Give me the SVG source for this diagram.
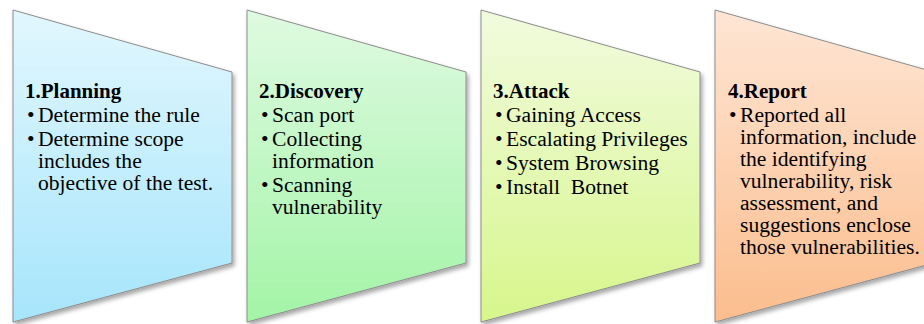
<svg xmlns="http://www.w3.org/2000/svg" width="924" height="324" viewBox="0 0 924 324">
  <style>
    .stage { stroke: #8c8c8c; stroke-width: 1; filter: url(#shadow); }
    text { font-family: 'Liberation Serif', 'DejaVu Serif', serif; fill: #000; }
    .title { font-size: 21px; font-weight: bold; }
    .body { font-size: 21.6px; }
  </style>
  <defs>
    <filter id="shadow" x="-10%" y="-10%" width="130%" height="130%">
      <feDropShadow dx="2" dy="3" stdDeviation="2" flood-color="#000" flood-opacity="0.35"/>
    </filter>
    <linearGradient id="gBlue" x1="0" y1="0" x2="0" y2="1">
      <stop offset="0" stop-color="#e2f7fe"/>
      <stop offset="1" stop-color="#a6e5fb"/>
    </linearGradient>
    <linearGradient id="gGreen" x1="0" y1="0" x2="0" y2="1">
      <stop offset="0" stop-color="#dffae1"/>
      <stop offset="1" stop-color="#a3f4a7"/>
    </linearGradient>
    <linearGradient id="gLime" x1="0" y1="0" x2="0" y2="1">
      <stop offset="0" stop-color="#f1fbde"/>
      <stop offset="1" stop-color="#d7f68c"/>
    </linearGradient>
    <linearGradient id="gOrange" x1="0" y1="0" x2="0" y2="1">
      <stop offset="0" stop-color="#fee6d5"/>
      <stop offset="1" stop-color="#fbbd8d"/>
    </linearGradient>
  </defs>
  <rect width="924" height="324" fill="#fff"/>

  <!-- Stage 1 -->
  <g id="planning">
    <path class="stage" fill="url(#gBlue)" d="M13,10 L232,72 L232,263 L13,322 Z"/>
    <text class="title" x="25" y="98">1.Planning</text>
    <text class="body">
      <tspan x="27" y="122">•</tspan><tspan x="38" y="122">Determine the rule</tspan>
      <tspan x="27" y="146">•</tspan><tspan x="38" y="146">Determine scope</tspan>
      <tspan x="38" y="168">includes the</tspan>
      <tspan x="38" y="190">objective of the test.</tspan>
    </text>
  </g>

  <!-- Stage 2 -->
  <g id="discovery">
    <path class="stage" fill="url(#gGreen)" d="M247,10 L466,72 L466,263 L247,322 Z"/>
    <text class="title" x="259" y="98">2.Discovery</text>
    <text class="body">
      <tspan x="261" y="122">•</tspan><tspan x="272" y="122">Scan port</tspan>
      <tspan x="261" y="146">•</tspan><tspan x="272" y="146">Collecting</tspan>
      <tspan x="272" y="168">information</tspan>
      <tspan x="261" y="192">•</tspan><tspan x="272" y="192">Scanning</tspan>
      <tspan x="272" y="214">vulnerability</tspan>
    </text>
  </g>

  <!-- Stage 3 -->
  <g id="attack">
    <path class="stage" fill="url(#gLime)" d="M481,10 L700,72 L700,263 L481,322 Z"/>
    <text class="title" x="493" y="98">3.Attack</text>
    <text class="body">
      <tspan x="495" y="122">•</tspan><tspan x="506" y="122">Gaining Access</tspan>
      <tspan x="495" y="146">•</tspan><tspan x="506" y="146">Escalating Privileges</tspan>
      <tspan x="495" y="170">•</tspan><tspan x="506" y="170">System Browsing</tspan>
      <tspan x="495" y="194">•</tspan><tspan x="506" y="194" xml:space="preserve">Install  Botnet</tspan>
    </text>
  </g>

  <!-- Stage 4 -->
  <g id="report">
    <path class="stage" fill="url(#gOrange)" d="M715,10 L934,72 L934,263 L715,322 Z"/>
    <text class="title" x="728" y="98">4.Report</text>
    <text class="body">
      <tspan x="729" y="122">•</tspan><tspan x="740" y="122">Reported all</tspan>
      <tspan x="740" y="144">information, include</tspan>
      <tspan x="740" y="166">the identifying</tspan>
      <tspan x="740" y="188">vulnerability, risk</tspan>
      <tspan x="740" y="210">assessment, and</tspan>
      <tspan x="740" y="232">suggestions enclose</tspan>
      <tspan x="740" y="254">those vulnerabilities.</tspan>
    </text>
  </g>

  <!-- No connectors: stages abut one another -->
  <g id="connectors"/>
</svg>
